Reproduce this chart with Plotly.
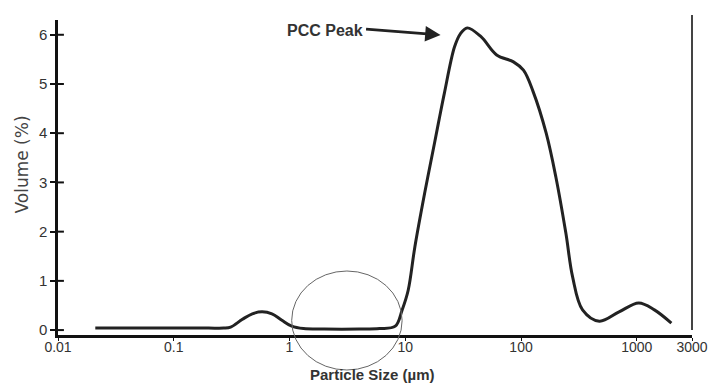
import plotly.graph_objects as go

# Particle size (um) and volume (%)
particle_size = [0.021, 0.05, 0.1, 0.2, 0.27, 0.31, 0.392, 0.477, 0.579, 0.705, 0.859, 1.045,
                 1.32, 2.0, 4.0, 6.0, 8.2, 9.4, 10.6, 12.1, 14.7, 17.9, 19.8, 21.8, 26.6,
                 29.9, 34.3, 45.1, 61.6, 86.0, 105, 127, 165, 200, 244, 279,
                 340, 475, 703, 1040, 1420, 1990]
volume = [0.04, 0.04, 0.04, 0.04, 0.04, 0.06, 0.22, 0.33, 0.37, 0.33, 0.20, 0.08,
          0.03, 0.02, 0.02, 0.03, 0.08, 0.41, 0.81, 1.69, 2.78, 3.80, 4.33, 4.82, 5.75,
          6.02, 6.14, 5.96, 5.59, 5.45, 5.28, 4.85, 4.00, 3.11, 1.97, 1.08,
          0.41, 0.18, 0.37, 0.55, 0.41, 0.14]

x_tick_vals = [0.01, 0.1, 1, 10, 100, 1000, 3000]
x_tick_text = ["0.01", "0.1", "1", "10", "100", "1000", "3000"]
y_tick_vals = [0, 1, 2, 3, 4, 5, 6]

W, H = 720, 384
L, R, T, B = 58, 19, 20, 49
pw, ph = W - L - R, H - T - B

def px2paper_x(px):
    return (px - L) / pw

def py2paper_y(py):
    return (H - B - py) / ph

FONT = "Liberation Sans, Arial, sans-serif"

fig = go.Figure()
fig.add_trace(go.Scatter(
    x=particle_size, y=volume, mode="lines",
    line=dict(color="#222222", width=3, shape="spline", smoothing=1.0),
    hoverinfo="skip", showlegend=False,
))

shapes = []
# crossing tick marks on y axis (inside part)
for v in y_tick_vals:
    shapes.append(dict(type="line", xref="paper", yref="y",
                       x0=0, x1=6 / pw, y0=v, y1=v,
                       line=dict(color="#111111", width=2)))
# right vertical line at 3000
shapes.append(dict(type="line", xref="paper", yref="paper",
                   x0=1, x1=1, y0=py2paper_y(15), y1=py2paper_y(330),
                   line=dict(color="#444444", width=2)))
# ellipse
shapes.append(dict(type="circle", xref="paper", yref="paper",
                   x0=px2paper_x(295), x1=px2paper_x(407),
                   y0=py2paper_y(370), y1=py2paper_y(271),
                   line=dict(color="#666666", width=1)))

annotations = [
    dict(xref="paper", yref="paper", x=px2paper_x(377), y=py2paper_y(374),
         text="<b>Particle Size (µm)</b>", showarrow=False,
         font=dict(family=FONT, size=15, color="#333333"),
         xanchor="center", yanchor="middle"),
    dict(xref="paper", yref="paper", x=px2paper_x(21), y=py2paper_y(165),
         text="Volume (%)", showarrow=False, textangle=-90,
         font=dict(family="DejaVu Sans, sans-serif", size=17, color="#444444"),
         xanchor="center", yanchor="middle"),
    # arrow
    dict(xref="paper", yref="paper", x=px2paper_x(446), y=py2paper_y(35),
         text="", showarrow=True, axref="pixel", ayref="pixel", ax=-76, ay=-6,
         arrowhead=2, arrowsize=1.1, arrowwidth=2.8, arrowcolor="#222222"),
    dict(xref="paper", yref="paper", x=px2paper_x(369), y=py2paper_y(31),
         text="<b>PCC Peak</b>", showarrow=False,
         font=dict(family=FONT, size=16, color="#333333"),
         xanchor="right", yanchor="middle"),
]

fig.update_layout(
    width=W, height=H,
    margin=dict(l=L, r=R, t=T, b=B),
    paper_bgcolor="white", plot_bgcolor="white",
    shapes=shapes, annotations=annotations,
    xaxis=dict(type="log", range=[-2, 3.4771], tickvals=x_tick_vals, ticktext=x_tick_text,
               showline=True, linecolor="#111111", linewidth=2.5,
               ticks="outside", ticklen=3, tickwidth=1, tickcolor="#111111",
               ticklabelstandoff=-6,
               showgrid=False, zeroline=False,
               tickfont=dict(family=FONT, size=14, color="#333333")),
    yaxis=dict(range=[-0.1, 6.3], tickvals=y_tick_vals,
               showline=True, linecolor="#111111", linewidth=2.5,
               ticks="outside", ticklen=5, tickwidth=2, tickcolor="#111111",
               showgrid=False, zeroline=False,
               tickfont=dict(family=FONT, size=15, color="#333333")),
)

fig.write_html("out.html")
